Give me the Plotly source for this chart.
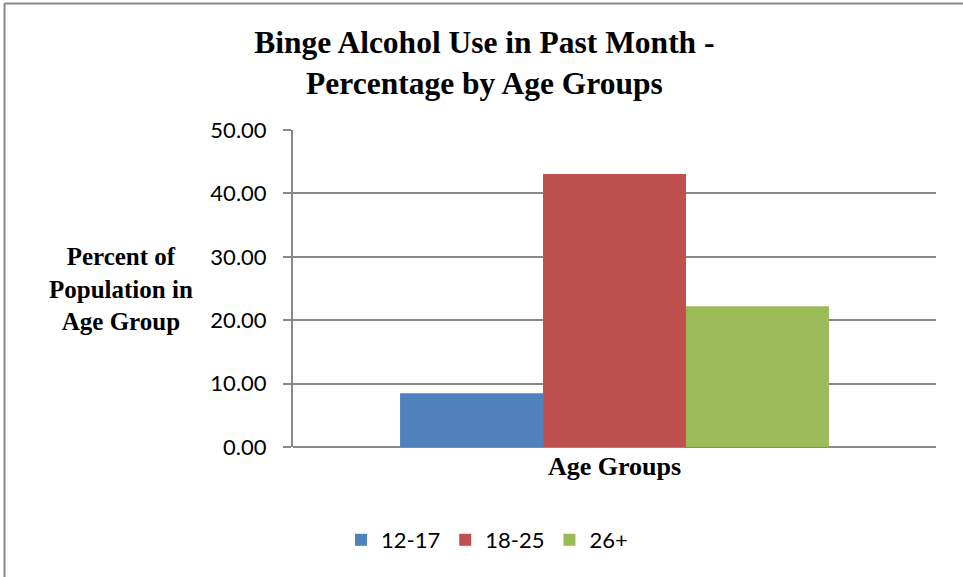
import plotly.graph_objects as go

# Binge alcohol use in the past month, percent of population in each age group
category = [""]
age_groups = ["12-17", "18-25", "26+"]
percent_12_17 = [8.48]
percent_18_25 = [43.06]
percent_26_plus = [22.21]
bar_colors = ["#4F81BD", "#C0504D", "#9BBB59"]

y_ticks = [0, 10, 20, 30, 40, 50]
y_tick_labels = ["0.00", "10.00", "20.00", "30.00", "40.00", "50.00"]

SERIF = "Times New Roman"
SANS = "Lato"
GRID = "#888888"

fig = go.Figure()
for name, vals, color in zip(age_groups, [percent_12_17, percent_18_25, percent_26_plus], bar_colors):
    fig.add_trace(go.Bar(x=category, y=vals, name=name, marker=dict(color=color, line=dict(width=0))))

W, H = 963, 577
ml, mr, mt, mb = 293, 27, 130, 130
pw, ph = W - ml - mr, H - mt - mb

def px_x(x):
    return (x - ml) / pw

def px_y(y):
    return 1 - (y - mt) / ph

fig.update_layout(
    width=W,
    height=H,
    margin=dict(l=ml, r=mr, t=mt, b=mb),
    paper_bgcolor="white",
    plot_bgcolor="white",
    barmode="group",
    bargap=0.333,
    bargroupgap=0,
    showlegend=True,
    title=dict(
        text="<b>Binge Alcohol Use in Past Month -<br>Percentage by Age Groups</b>",
        font=dict(family=SERIF, size=31.5, color="black"),
        x=0.503, xanchor="center", xref="container",
        y=1 - 53 / H, yanchor="middle", yref="container",
    ),
    xaxis=dict(
        showticklabels=False, ticks="", showgrid=False,
        showline=False, zeroline=False,
        title=dict(text="<b>Age Groups</b>", font=dict(family=SERIF, size=26, color="black"), standoff=9),
    ),
    yaxis=dict(
        range=[0, 50], tickvals=y_ticks, ticktext=y_tick_labels,
        tickfont=dict(family=SANS, size=22, color="black"),
        ticks="outside", ticklen=8, tickcolor=GRID, tickwidth=2,
        showgrid=True, gridcolor=GRID, gridwidth=2,
        showline=True, linecolor=GRID, linewidth=2,
        zeroline=True, zerolinecolor=GRID, zerolinewidth=2,
        ticklabelstandoff=12,
    ),
    legend=dict(
        orientation="h", x=px_x(487), xanchor="center", y=px_y(540), yanchor="middle",
        font=dict(family=SANS, size=22, color="black"),
        itemwidth=30, traceorder="normal",
    ),
)

# y-axis title placed to the left of the tick labels
fig.add_annotation(
    text="<b>Percent of<br>Population in<br>Age Group</b>",
    xref="paper", yref="paper", x=px_x(121), y=px_y(289),
    xanchor="center", yanchor="middle", showarrow=False, align="center",
    font=dict(family=SERIF, size=25, color="black"),
)

# Outer chart frame: left and top edges
frame = dict(color="#888888", width=2)
fig.add_shape(type="line", xref="paper", yref="paper",
              x0=px_x(4.5), x1=px_x(4.5), y0=px_y(H), y1=px_y(3.5), line=frame)
fig.add_shape(type="line", xref="paper", yref="paper",
              x0=px_x(4.5), x1=px_x(W), y0=px_y(3.5), y1=px_y(3.5), line=frame)

fig.write_html("out.html")
